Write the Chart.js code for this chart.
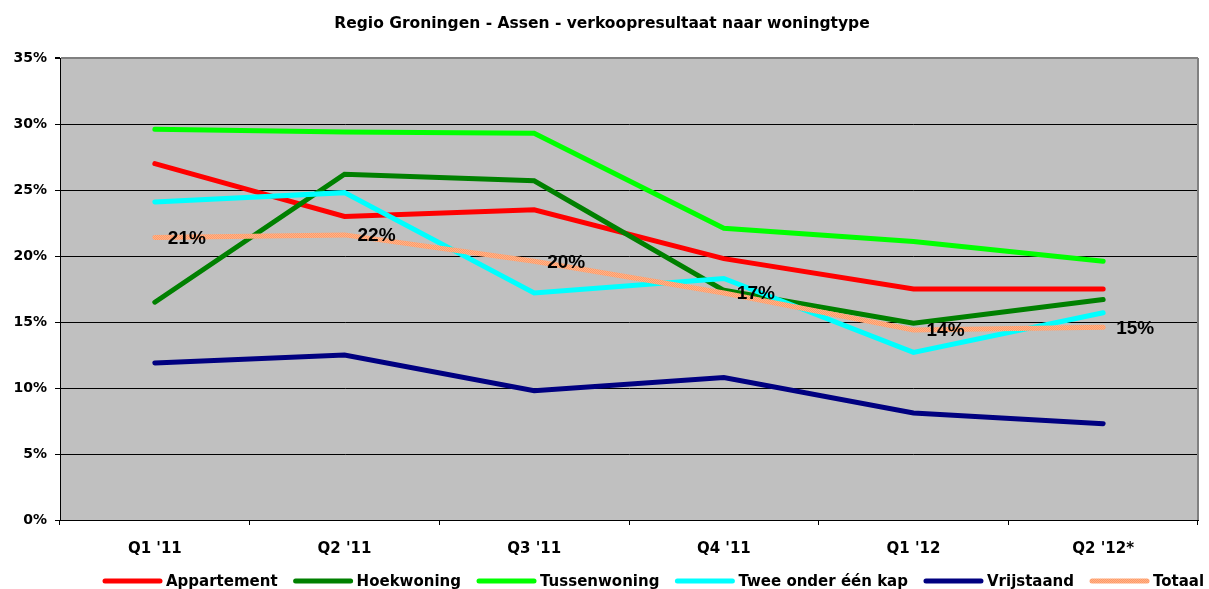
<!DOCTYPE html>
<html>
<head>
<meta charset="utf-8">
<script src="https://cdn.jsdelivr.net/npm/chart.js@4/dist/chart.umd.min.js"></script>
<style>
html,body{margin:0;padding:0;background:#fff;}
#c{display:block;}
</style>
</head>
<body>
<canvas id="c" width="1209" height="589"></canvas>
<script>
const chartTitle = "Regio Groningen - Assen - verkoopresultaat naar woningtype";
const categories = ["Q1 '11", "Q2 '11", "Q3 '11", "Q4 '11", "Q1 '12", "Q2 '12*"];
const seriesNames = ["Appartement", "Hoekwoning", "Tussenwoning", "Twee onder één kap", "Vrijstaand", "Totaal"];
const appartement = [27.0, 23.0, 23.5, 19.8, 17.5, 17.5];
const hoekwoning = [16.5, 26.2, 25.7, 17.4, 14.9, 16.7];
const tussenwoning = [29.6, 29.4, 29.3, 22.1, 21.1, 19.6];
const tweeOnderEenKap = [24.1, 24.8, 17.2, 18.3, 12.7, 15.7];
const vrijstaand = [11.9, 12.5, 9.8, 10.8, 8.1, 7.3];
const totaal = [21.4, 21.6, 19.6, 17.2, 14.4, 14.6];
const yMin = 0, yMax = 35, yStep = 5;

// peach dotted pattern for Totaal
const pc = document.createElement('canvas');
pc.width = 2; pc.height = 2;
const pctx = pc.getContext('2d');
pctx.fillStyle = '#FFB48A'; pctx.fillRect(0, 0, 2, 2);
pctx.fillStyle = '#FF9966'; pctx.fillRect(0, 0, 1, 1); pctx.fillRect(1, 1, 1, 1);
const peach = pctx.createPattern(pc, 'repeat');

const colors = ['#FF0000', '#008000', '#00FF00', '#00FFFF', '#000080', peach];
const allSeries = [appartement, hoekwoning, tussenwoning, tweeOnderEenKap, vrijstaand, totaal];

const AXIS_FONT = '"DejaVu Sans", sans-serif';

const datasets = allSeries.map((d, i) => ({
  label: seriesNames[i],
  data: d,
  borderColor: colors[i],
  backgroundColor: colors[i],
  borderWidth: 5,
  pointRadius: 0,
  pointHoverRadius: 0,
  tension: 0,
  fill: false,
  borderCapStyle: 'round',
  borderJoinStyle: 'miter',
  order: allSeries.length - i
}));

const bgPlugin = {
  id: 'bg',
  beforeDraw(chart) {
    const a = chart.chartArea, ctx = chart.ctx;
    ctx.save();
    ctx.fillStyle = '#C0C0C0';
    ctx.fillRect(a.left, a.top, a.right - a.left, a.bottom - a.top);
    ctx.restore();
  },
  afterDraw(chart) {
    const a = chart.chartArea, ctx = chart.ctx;
    ctx.save();
    // right border
    ctx.strokeStyle = '#808080';
    ctx.lineWidth = 2;
    ctx.beginPath();
    ctx.moveTo(a.right, a.top);
    ctx.lineTo(a.right, a.bottom);
    ctx.stroke();
    // title
    ctx.fillStyle = '#000';
    ctx.font = 'bold 15.5px ' + AXIS_FONT;
    ctx.textAlign = 'center';
    ctx.textBaseline = 'middle';
    ctx.fillText(chartTitle, 602, 24);
    // legend
    ctx.font = 'bold 15px ' + AXIS_FONT;
    ctx.textAlign = 'left';
    let x = 103;
    const y = 582;
    seriesNames.forEach((name, i) => {
      ctx.strokeStyle = colors[i];
      ctx.lineWidth = 5;
      ctx.lineCap = 'round';
      ctx.beginPath();
      ctx.moveTo(x + 2, y - 1);
      ctx.lineTo(x + 57, y - 1);
      ctx.stroke();
      ctx.fillStyle = '#000';
      ctx.fillText(name, x + 63, y);
      x += 63 + ctx.measureText(name).width + 16;
    });
    ctx.restore();
  },
  afterDatasetsDraw(chart) {
    const idx = allSeries.length - 1;
    const meta = chart.getDatasetMeta(idx);
    const ctx = chart.ctx;
    ctx.save();
    ctx.fillStyle = '#000';
    ctx.font = 'bold 19px "Liberation Sans", Arial, sans-serif';
    ctx.textAlign = 'left';
    ctx.textBaseline = 'middle';
    meta.data.forEach((el, j) => {
      ctx.fillText(Math.round(totaal[j]) + '%', el.x + 13, el.y + 1);
    });
    ctx.restore();
  }
};

new Chart(document.getElementById('c'), {
  type: 'line',
  data: { labels: categories, datasets },
  options: {
    responsive: false,
    animation: false,
    events: [],
    layout: { padding: { top: 58, left: 0, right: 11, bottom: 0 } },
    plugins: { legend: { display: false }, title: { display: false }, tooltip: { enabled: false } },
    scales: {
      x: {
        type: 'category',
        offset: true,
        afterFit(s) { s.height = 69; },
        grid: { offset: true, drawOnChartArea: false, drawTicks: true, tickLength: 5, tickColor: '#000' },
        border: { display: true, color: '#000', width: 1 },
        ticks: { color: '#000', font: { family: AXIS_FONT, weight: 'bold', size: 15 }, padding: 15, maxRotation: 0 }
      },
      y: {
        min: yMin, max: yMax,
        afterFit(s) { s.width = 60; },
        grid: {
          color: (c) => (c.tick && c.tick.value === yMax) ? '#808080' : '#000',
          lineWidth: (c) => (c.tick && c.tick.value === yMax) ? 2 : 1,
          tickColor: '#000', tickLength: 5, drawTicks: true
        },
        border: { display: true, color: '#000', width: 1 },
        ticks: {
          stepSize: yStep, color: '#000', padding: 8,
          font: { family: AXIS_FONT, weight: 'bold', size: 14 },
          callback: (v) => v + '%'
        }
      }
    }
  },
  plugins: [bgPlugin]
});
</script>
</body>
</html>
